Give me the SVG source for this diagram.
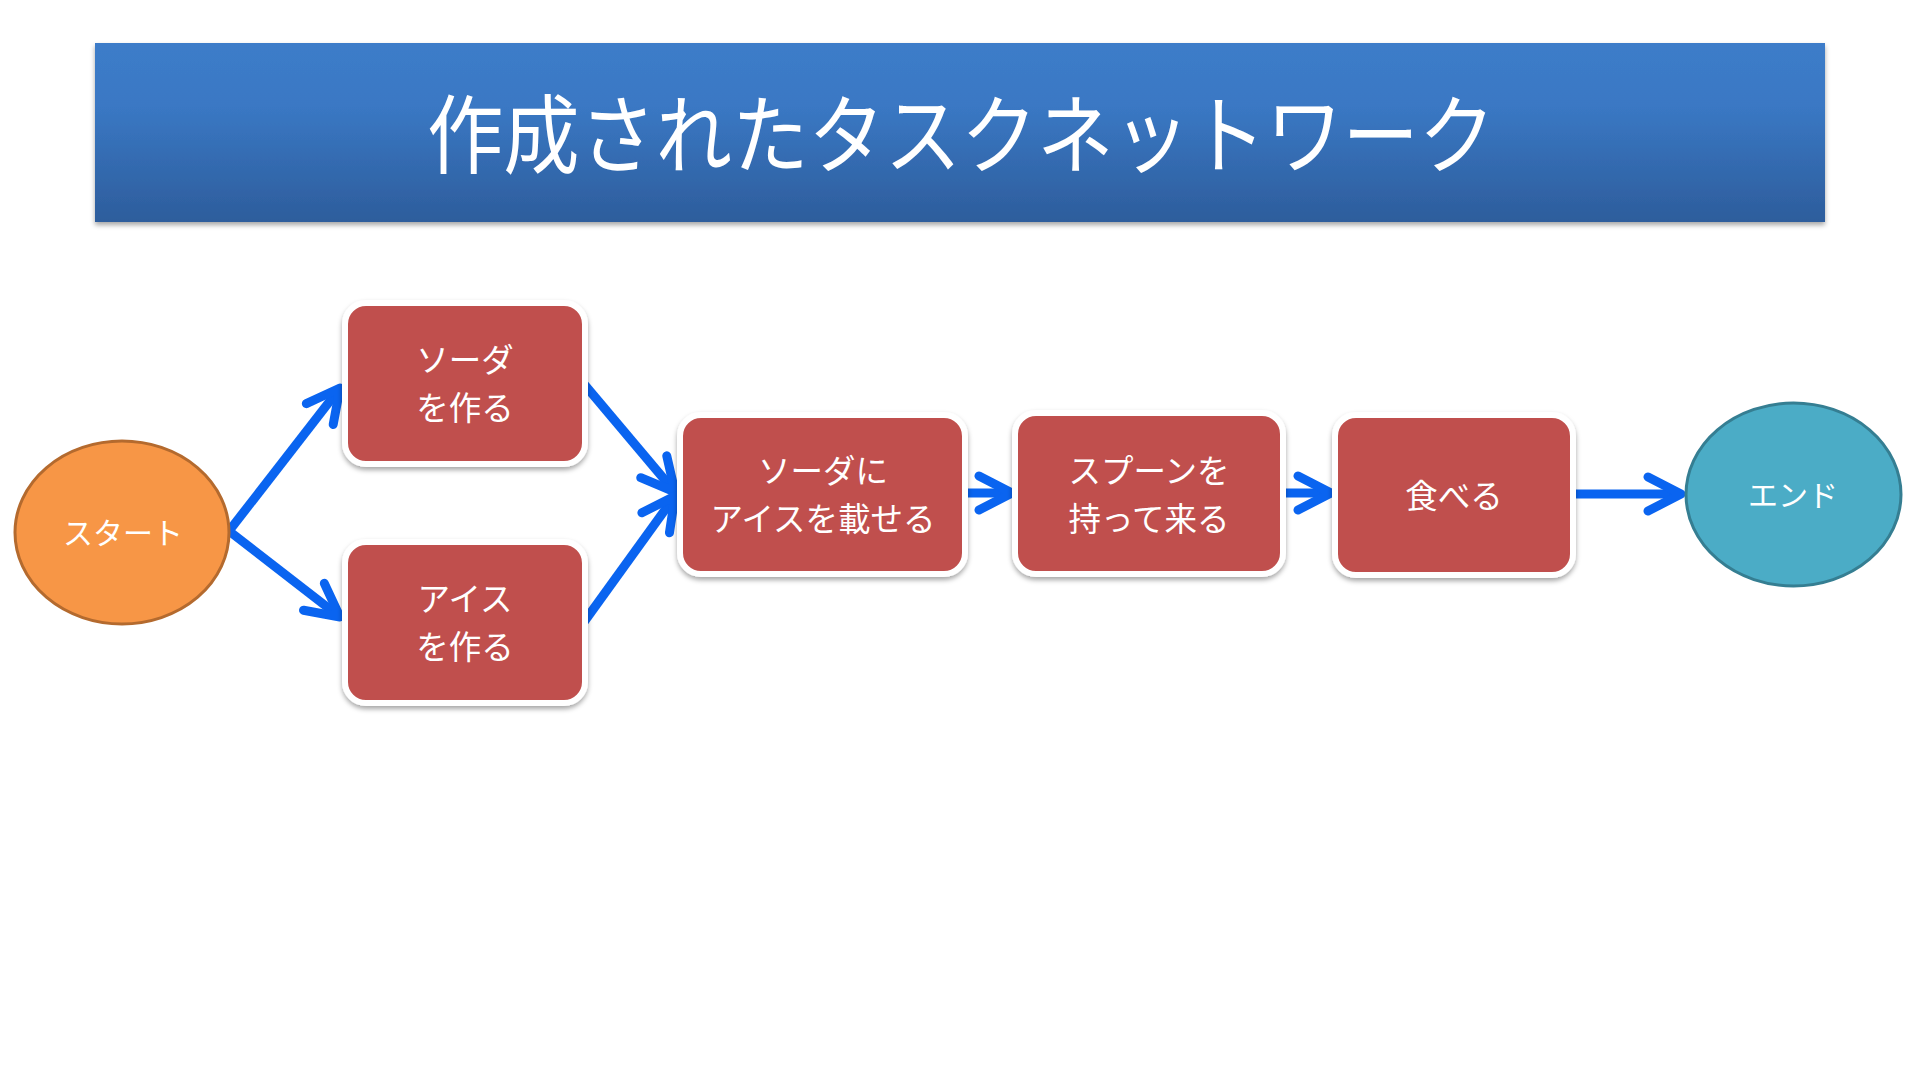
<svg xmlns="http://www.w3.org/2000/svg" width="1920" height="1080" viewBox="0 0 1920 1080">
  <defs>
    <linearGradient id="titleGrad" x1="0" y1="0" x2="0" y2="1">
      <stop offset="0" stop-color="#3C7CC9"/>
      <stop offset="0.35" stop-color="#3A78C4"/>
      <stop offset="1" stop-color="#2D5D9C"/>
    </linearGradient>
    <filter id="shadow" x="-10%" y="-10%" width="120%" height="130%">
      <feDropShadow dx="0" dy="3" stdDeviation="2.5" flood-color="#000" flood-opacity="0.35"/>
    </filter>
    <marker id="chev" markerUnits="userSpaceOnUse" viewBox="-40 -24 48 48" refX="0" refY="0" markerWidth="48" markerHeight="48" orient="auto" overflow="visible">
      <path d="M-33,-17 L0,0 L-33,17" fill="none" stroke="#0A64F0" stroke-width="9" stroke-linecap="round" stroke-linejoin="round"/>
    </marker>
  </defs>
  <style>
    .box { fill: #C0504D; stroke: #FFFFFF; stroke-width: 6; filter: url(#shadow); }
    .lbl { font-family: "Noto Sans CJK JP", "Noto Sans", sans-serif; fill: #FFFFFF; text-anchor: middle; dominant-baseline: central; }
    .t33 { font-size: 32.5px; }
    .t30 { font-size: 30px; }
    .conn { stroke: #0A64F0; stroke-width: 9; fill: none; marker-end: url(#chev); }
  </style>

  <rect width="1920" height="1080" fill="#FFFFFF"/>

  <g id="title">
    <rect x="95" y="43" width="1730" height="179" fill="url(#titleGrad)" filter="url(#shadow)"/>
    <text class="lbl" x="961" y="129" font-size="86" textLength="1068" lengthAdjust="spacingAndGlyphs">作成されたタスクネットワーク</text>
  </g>

  <g id="connectors">
    <line class="conn" x1="229" y1="531" x2="340" y2="388"/>
    <line class="conn" x1="229" y1="531" x2="340" y2="617"/>
    <line class="conn" x1="584" y1="384" x2="675" y2="492"/>
    <line class="conn" x1="584" y1="622" x2="675" y2="496"/>
    <line class="conn" x1="964" y1="493" x2="1012" y2="493"/>
    <line class="conn" x1="1283" y1="493" x2="1331" y2="493"/>
    <line class="conn" x1="1573" y1="494" x2="1681" y2="494"/>
  </g>

  <g id="node-start">
    <ellipse cx="122" cy="532.5" rx="107" ry="91.5" fill="#F79646" stroke="#B46A2E" stroke-width="3"/>
    <text class="lbl t30" x="123" y="531">スタート</text>
  </g>

  <g id="node-soda">
    <rect class="box" x="345" y="303" width="240" height="161" rx="21"/>
    <text class="lbl t33" x="465" y="357"><tspan x="465" y="357">ソーダ</tspan><tspan x="465" y="405">を作る</tspan></text>
  </g>

  <g id="node-ice">
    <rect class="box" x="345" y="542" width="240" height="161" rx="21"/>
    <text class="lbl t33" x="465" y="596"><tspan x="465" y="596">アイス</tspan><tspan x="465" y="643.5">を作る</tspan></text>
  </g>

  <g id="node-put">
    <rect class="box" x="680" y="415" width="285" height="159" rx="21"/>
    <text class="lbl t33" x="823" y="468"><tspan x="823" y="468">ソーダに</tspan><tspan x="823" y="515.5">アイスを載せる</tspan></text>
  </g>

  <g id="node-spoon">
    <rect class="box" x="1015" y="413" width="268" height="161" rx="21"/>
    <text class="lbl t33" x="1149" y="468"><tspan x="1149" y="468">スプーンを</tspan><tspan x="1149" y="515.5">持って来る</tspan></text>
  </g>

  <g id="node-eat">
    <rect class="box" x="1335" y="415" width="238" height="160" rx="21"/>
    <text class="lbl t33" x="1454" y="493">食べる</text>
  </g>

  <g id="node-end">
    <ellipse cx="1793.5" cy="494.5" rx="107.5" ry="91.5" fill="#4BACC6" stroke="#357E92" stroke-width="3"/>
    <text class="lbl t30" x="1793" y="493">エンド</text>
  </g>
</svg>
